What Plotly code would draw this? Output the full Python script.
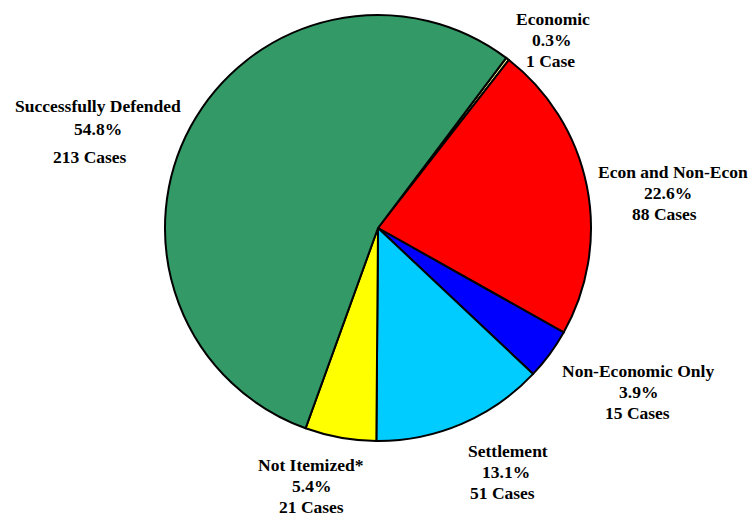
import plotly.graph_objects as go

# Case outcomes (clockwise from the Economic slice)
categories = ["Economic", "Econ and Non-Econ", "Non-Economic Only",
              "Settlement", "Not Itemized*", "Successfully Defended"]
cases = [1, 88, 15, 51, 21, 213]
percent_labels = ["0.3%", "22.6%", "3.9%", "13.1%", "5.4%", "54.8%"]
case_labels = ["1 Case", "88 Cases", "15 Cases", "51 Cases", "21 Cases", "213 Cases"]
colors = ["#ffff99", "#ff0000", "#0000ff", "#00ccff", "#ffff00", "#339966"]

W, H = 749, 517

fig = go.Figure(go.Pie(
    labels=categories,
    values=cases,
    sort=False,
    direction="clockwise",
    rotation=37,
    marker=dict(colors=colors, line=dict(color="black", width=2)),
    textinfo="none",
    hoverinfo="label+value+percent",
    showlegend=False,
    domain=dict(x=[165 / W, 591 / W], y=[1 - 441 / H, 1 - 15 / H]),
))

# Label block positions (pixel centres of each text line)
label_pos = {
    "Economic": [(553, 19), (551, 40), (550, 61)],
    "Econ and Non-Econ": [(673, 172), (668, 193), (664, 214)],
    "Non-Economic Only": [(638, 371), (638, 392), (637, 413)],
    "Settlement": [(508, 451), (506, 472), (503, 493)],
    "Not Itemized*": [(311, 465), (311, 486), (311, 507)],
    "Successfully Defended": [(98, 106), (98, 129), (90, 157)],
}

font = dict(family="Liberation Serif, Times New Roman, serif", size=17.5, color="black")
annotations = []
for name, pct, cnt in zip(categories, percent_labels, case_labels):
    for text, (px, py) in zip([name, pct, cnt], label_pos[name]):
        annotations.append(dict(
            x=px / W, y=1 - py / H, xref="paper", yref="paper",
            text="<b>" + text + "</b>", showarrow=False,
            xanchor="center", yanchor="middle", font=font,
        ))

fig.update_layout(
    width=W, height=H,
    margin=dict(l=0, r=0, t=0, b=0),
    paper_bgcolor="white", plot_bgcolor="white",
    annotations=annotations,
)

fig.write_html("out.html")
